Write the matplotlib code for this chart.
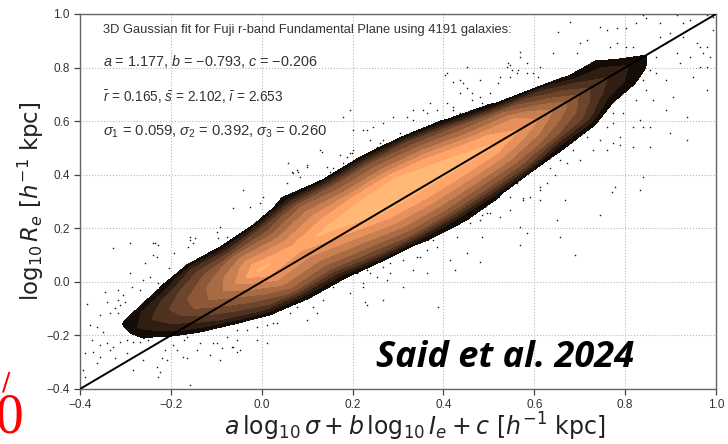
import numpy as np
import matplotlib
matplotlib.use("Agg")
import matplotlib.pyplot as plt
from matplotlib import cm

plt.rcParams["font.family"] = ["Liberation Sans", "DejaVu Sans"]
plt.rcParams["mathtext.fontset"] = "custom"
plt.rcParams["mathtext.rm"] = "Liberation Sans"
plt.rcParams["mathtext.it"] = "Liberation Sans:italic"
plt.rcParams["mathtext.bf"] = "Liberation Sans:bold"

# Axis ranges and ticks
x_range = [-0.4, 1.0]
y_range = [-0.4, 1.0]
ticks = [-0.4, -0.2, 0.0, 0.2, 0.4, 0.6, 0.8, 1.0]

# Density grid of the galaxy distribution, sampled in a frame rotated onto the
# one-to-one line: u = position along the line, v = offset (y - x) from it.
u_stations = [-0.25, -0.22, -0.18, -0.12, -0.05, 0.02, 0.10, 0.18, 0.26,
              0.34, 0.42, 0.50, 0.58, 0.66, 0.72, 0.78, 0.83, 0.86]
v_offsets = [-0.25, -0.20, -0.15, -0.10, -0.05, 0.00, 0.05, 0.10, 0.15,
             0.20, 0.25, 0.30]
density_columns = [
    [0, 0, 0, 0, 0, 0, 0, 0, 0, 0, 0, 0],
    [0, 0, 0, 0, 0, -0.28, 1.02, 1.6, 0.84, -1.29, 0, 0],
    [0, 0, 0, 0, -0.23, 1.59, 2.46, 2.83, 1.74, -0.56, 0, 0],
    [0, 0, 0, -0.16, 2.39, 3.65, 4.64, 4.35, 3.1, 0.6, -0.5, 0],
    [0, 0, 0.09, 3.04, 4.57, 5.75, 6.8, 6.01, 4.6, 2.72, -1.24, 0],
    [0, -1.1, 1.2, 4.99, 6.82, 8.35, 9.7, 7.99, 5.96, 2.0, -1.41, 0],
    [0, -1.15, 1.6, 4.78, 6.41, 7.78, 9.0, 7.51, 5.76, 3.49, -1.18, 0],
    [0, -0.3, 3.71, 5.72, 7.3, 8.67, 9.9, 8.56, 7.03, 5.23, 1.5, -1.0],
    [-0.7, 0.8, 4.85, 6.76, 8.3, 9.73, 9.94, 9.3, 6.67, 4.5, 0.25, 0],
    [-0.5, 1.2, 4.9, 6.9, 8.5, 9.75, 10.0, 9.4, 6.8, 4.6, 0.45, 0],
    [-0.5, 0.65, 4.4, 6.6, 8.4, 9.7, 9.6, 8.3, 6.0, 3.6, -0.9, 0],
    [0, -1.19, 3.79, 6.23, 8.1, 9.7, 8.8, 6.61, 4.58, 0.6, -0.3, 0],
    [0, -1.1, 1.4, 5.01, 6.77, 8.26, 7.7, 5.55, 1.0, -1.08, 0, 0],
    [0, 0, 0.38, 3.3, 4.8, 6.0, 4.52, 2.51, -1.86, 0, 0, 0],
    [0, 0, -0.4, 0.6, 2.6, 3.6, 2.45, 0.18, 0, 0, 0, 0],
    [0, 0, 0, 0.02, 1.36, 2.0, 1.42, 0.27, 0, 0, 0, 0],
    [0, 0, 0, 0, 0.24, 1.1, -0.4, 0, 0, 0, 0, 0],
    [0, 0, 0, 0, 0, 0, 0, 0, 0, 0, 0, 0],
]
contour_levels = [0.5, 1.5, 2.5, 3.5, 4.5, 5.5, 6.5, 7.5, 8.5, 9.5, 100.0]

# Galaxies lying outside the outermost density contour
outlier_x = [
    -0.385, -0.357, -0.335, -0.317, -0.379, -0.363, -0.350, -0.374, -0.357, -0.341,
    -0.328, -0.313, -0.297, -0.284, -0.269, -0.251, -0.390, -0.372, -0.357, -0.335,
    -0.324, -0.297, -0.284, -0.262, -0.231, -0.225, -0.229, -0.220, -0.209, -0.214,
    -0.187, -0.174, -0.165, -0.158, -0.143, -0.114, -0.108, -0.092, -0.088, -0.064,
    -0.055, -0.048, -0.394, -0.363, -0.390, -0.196, -0.136, -0.170,
    -0.328, -0.291, -0.258, -0.240, -0.236, -0.229, -0.192, -0.203, -0.346, -0.341,
    -0.317, -0.313, -0.324, -0.317, -0.306, -0.302, -0.291, -0.286, -0.269, -0.262,
    -0.247, -0.284, -0.229, -0.158, -0.147, -0.163, -0.099, -0.097, -0.077,
    -0.165, -0.099, -0.077, -0.055, -0.033, -0.011, 0.011, 0.024, -0.055, -0.066,
    -0.011, 0.011,
    -0.240, -0.231, -0.158, -0.152, -0.092, -0.064, -0.042, -0.026, -0.004, 0.002,
    0.018, 0.066, 0.077, 0.084, 0.099, 0.132, 0.143, 0.150, 0.156, 0.178,
    0.187, 0.194, 0.200, 0.231, 0.266, 0.304, 0.332, 0.363, 0.385, 0.420,
    0.033, 0.062, 0.077, 0.090, 0.106, 0.112, 0.121, 0.099, 0.134, 0.156,
    0.194, 0.209, 0.231, 0.222, 0.266, 0.282, 0.310, 0.341, 0.385, 0.429,
    0.451, 0.480, 0.495, 0.524, 0.546, 0.575, 0.590, 0.612, 0.627, 0.486,
    0.414, 0.363, 0.310, 0.266, 0.583,
    0.403, 0.420, 0.451, 0.464, 0.480, 0.520, 0.542, 0.550, 0.564, 0.583,
    0.608, 0.407, 0.420, 0.436, 0.462, 0.486,
    0.810, 0.839, 0.847, 0.861, 0.825, 0.795, 0.773, 0.759, 0.744, 0.729,
    0.773, 0.788, 0.759, 0.700, 0.715, 0.685, 0.671, 0.656, 0.634, 0.645,
    0.832, 0.839, 0.777, 0.770, 0.667, 0.649, 0.568, 0.561, 0.612, 0.612,
    0.575, 0.539, 0.486, 0.502, 0.473, 0.458, 0.546,
    0.678, 0.652, 0.744, 0.759, 0.781, 0.803, 0.825, 0.839, 0.847, 0.876,
    0.914, 0.927, 0.942, 0.980, 0.993, 0.993, 0.958, 0.964, 0.980, 0.927,
    0.898, 0.876, 0.891, 0.942, 0.971, 0.986, 0.914, 0.869, 0.854, 0.869,
    0.964, 0.980, 0.949, 0.920, 0.891, 0.905, 0.936, 0.980, 0.817, 0.803,
    0.781, 0.766, 0.715, 0.700, 0.693, 0.641, 0.568, 0.583, 0.612, 0.597,
    0.539, 0.546, 0.891, 0.854, 0.839, 0.817, 0.773, 0.788, 0.817, 0.854,
    0.936, 0.898,
    0.568, 0.546, 0.561, 0.524, 0.480, 0.442, 0.436, 0.464, 0.502, 0.370,
    0.354, 0.332, 0.319, 0.288, 0.266, 0.244, 0.222, 0.200, 0.178, 0.194,
    0.238, 0.253, 0.326, 0.451, 0.436, 0.407,
    0.128, 0.172, 0.198, 0.057, 0.099, 0.068, 0.079, 0.055, 0.106, 0.134,
    0.260, 0.178, 0.216, 0.238, 0.253, 0.282, 0.332, 0.348, 0.363, 0.376,
    0.222, 0.275, 0.387, 0.227, 0.231, 0.425, 0.480, 0.568, 0.656, 0.744,
    0.832, 0.689,
]
outlier_y = [
    -0.082, -0.123, -0.116, -0.116, -0.161, -0.168, -0.187, -0.217, -0.235, -0.228,
    -0.243, -0.224, -0.217, -0.224, -0.224, -0.217, -0.265, -0.261, -0.280, -0.254,
    -0.284, -0.265, -0.328, -0.291, -0.317, -0.336, -0.355, -0.284, -0.291, -0.254,
    -0.254, -0.280, -0.284, -0.384, -0.254, -0.273, -0.228, -0.291, -0.246, -0.243,
    -0.261, -0.254, -0.328, -0.302, -0.355, -0.235, -0.228, -0.217,
    0.127, 0.146, 0.071, 0.101, 0.146, 0.138, 0.108, 0.052, -0.037, -0.075,
    -0.067, -0.086, -0.097, -0.030, -0.049, -0.075, 0.034, -0.019, -0.030, 0.007,
    0.019, -0.112, -0.004, 0.168, 0.164, 0.131, 0.187, 0.164, 0.168,
    -0.205, -0.228, -0.205, -0.179, -0.179, -0.168, -0.161, -0.153, -0.217, -0.243,
    -0.217, -0.228,
    0.146, 0.093, 0.157, 0.146, 0.205, 0.276, 0.343, 0.280, 0.295, 0.317,
    0.258, 0.411, 0.418, 0.392, 0.429, 0.485, 0.429, 0.411, 0.426, 0.444,
    0.467, 0.482, 0.493, 0.567, 0.530, 0.556, 0.605, 0.631, 0.642, 0.653,
    -0.153, -0.116, -0.093, -0.067, -0.041, -0.093, -0.116, -0.142, -0.067, -0.019,
    -0.041, 0.034, 0.045, -0.019, 0.056, 0.071, 0.082, 0.093, 0.131, 0.168,
    0.108, 0.231, 0.258, 0.243, 0.269, 0.306, 0.317, 0.343, 0.370, 0.168,
    0.082, 0.034, -0.019, -0.067, 0.183,
    0.773, 0.747, 0.724, 0.706, 0.691, 0.743, 0.818, 0.791, 0.791, 0.780,
    0.765, 0.668, 0.642, 0.631, 0.631, 0.668,
    0.754, 0.754, 0.717, 0.679, 0.679, 0.631, 0.631, 0.578, 0.530, 0.493,
    0.519, 0.511, 0.493, 0.455, 0.541, 0.493, 0.444, 0.455, 0.426, 0.399,
    0.604, 0.392, 0.355, 0.336, 0.306, 0.231, 0.205, 0.370, 0.355, 0.306,
    0.314, 0.355, 0.250, 0.258, 0.280, 0.220, 0.317,
    0.970, 0.933, 0.952, 0.941, 0.948, 0.948, 0.967, 0.996, 0.985, 0.967,
    0.996, 0.967, 0.978, 0.996, 0.989, 0.940, 0.892, 0.877, 0.877, 0.914,
    0.929, 0.914, 0.892, 0.840, 0.855, 0.840, 0.855, 0.840, 0.791, 0.780,
    0.802, 0.802, 0.765, 0.817, 0.754, 0.690, 0.616, 0.716, 0.877, 0.877,
    0.892, 0.877, 0.903, 0.892, 0.855, 0.855, 0.840, 0.817, 0.802, 0.780,
    0.802, 0.765, 0.642, 0.578, 0.578, 0.578, 0.593, 0.541, 0.504, 0.504,
    0.530, 0.556,
    0.858, 0.810, 0.780, 0.765, 0.754, 0.743, 0.706, 0.679, 0.706, 0.668,
    0.642, 0.642, 0.616, 0.616, 0.593, 0.578, 0.567, 0.567, 0.616, 0.642,
    0.530, 0.504, 0.556, 0.802, 0.754, 0.780,
    0.493, 0.474, 0.482, 0.444, 0.437, 0.407, 0.411, 0.370, 0.355, 0.381,
    0.519, 0.019, 0.045, 0.034, 0.019, 0.034, 0.045, 0.093, 0.119, 0.157,
    -0.004, 0.007, -0.093, -0.075, -0.086, 0.045, 0.075, 0.138, 0.168, 0.250,
    0.343, 0.101,
]

fit_header = "3D Gaussian fit for Fuji r-band Fundamental Plane using 4191 galaxies:"
fit_slopes = r"$a$ = 1.177, $b$ = −0.793, $c$ = −0.206"
fit_means = r"$\bar{r}$ = 0.165, $\bar{s}$ = 2.102, $\bar{\imath}$ = 2.653"
fit_widths = r"$\sigma_1$ = 0.059, $\sigma_2$ = 0.392, $\sigma_3$ = 0.260"
citation = "Said et al. 2024"

fig = plt.figure(figsize=(7.28, 4.44), dpi=100)
ax = fig.add_axes([0.1099, 0.1239, 0.8736, 0.8446])

# Rotated sampling grid mapped back to the (x, y) plane
U, V = np.meshgrid(np.array(u_stations), np.array(v_offsets))
Z = np.array(density_columns).T
X = U - V / 2.0
Y = U + V / 2.0

band_colors = cm.copper(np.linspace(0.06, 0.92, len(contour_levels) - 1))

ax.scatter(outlier_x, outlier_y, s=1.3, color="#1a1a1a", linewidths=0, zorder=1)
ax.contourf(X, Y, Z, levels=contour_levels, colors=band_colors, zorder=2)
ax.plot(x_range, y_range, color="black", lw=1.4, zorder=3)

ax.set_xlim(x_range)
ax.set_ylim(y_range)
ax.set_xticks(ticks)
ax.set_yticks(ticks)
ax.set_xticklabels([f"{t:.1f}".replace("-", "−") for t in ticks])
ax.set_yticklabels([f"{t:.1f}".replace("-", "−") for t in ticks])
ax.set_axisbelow(True)
ax.grid(True, linestyle=":", color="#b8b8b8", linewidth=0.8)
ax.tick_params(direction="out", length=4, width=0.9, colors="#444444",
               labelsize=8.5, labelcolor="#333333")
for sp in ax.spines.values():
    sp.set_color("#666666")
    sp.set_linewidth(1.0)

ax.set_xlabel(r"$a\,\log_{10}\sigma + b\,\log_{10}I_e + c$ [$h^{-1}$ kpc]",
              fontsize=17, color="#222222", family="DejaVu Sans",
              math_fontfamily="dejavusans", labelpad=1)
ax.xaxis.set_label_coords(0.527, -0.058, transform=ax.transAxes)
ax.xaxis.label.set_va("top")
ax.set_ylabel(r"$\log_{10}R_e$ [$h^{-1}$ kpc]",
              fontsize=16.5, color="#222222", family="DejaVu Sans",
              math_fontfamily="dejavusans", labelpad=0)

tx = 0.036
ax.text(tx, 0.957, fit_header, transform=ax.transAxes, fontsize=9.3,
        color="#333333", va="center", ha="left", zorder=4)
for yy, txt, fs in zip([0.872, 0.777, 0.686],
                       [fit_slopes, fit_means, fit_widths],
                       [10.4, 9.8, 10.6]):
    ax.text(tx, yy, txt, transform=ax.transAxes, fontsize=fs,
            color="#333333", va="center", ha="left", zorder=4)

ax.text(0.465, 0.082, citation, transform=ax.transAxes, fontsize=26,
        family="Open Sans", weight="bold", style="italic", color="black",
        va="center", ha="left", zorder=5)

# Red fragments at the lower-left margin
fig.text(-0.006, 0.0, "0", color="red", fontsize=40,
         family="Liberation Serif", ha="left", va="bottom")
fig.text(0.008, 0.112, "/", color="red", fontsize=18,
         family="DejaVu Sans", ha="center", va="bottom")

fig.savefig("out.png", dpi=100)
